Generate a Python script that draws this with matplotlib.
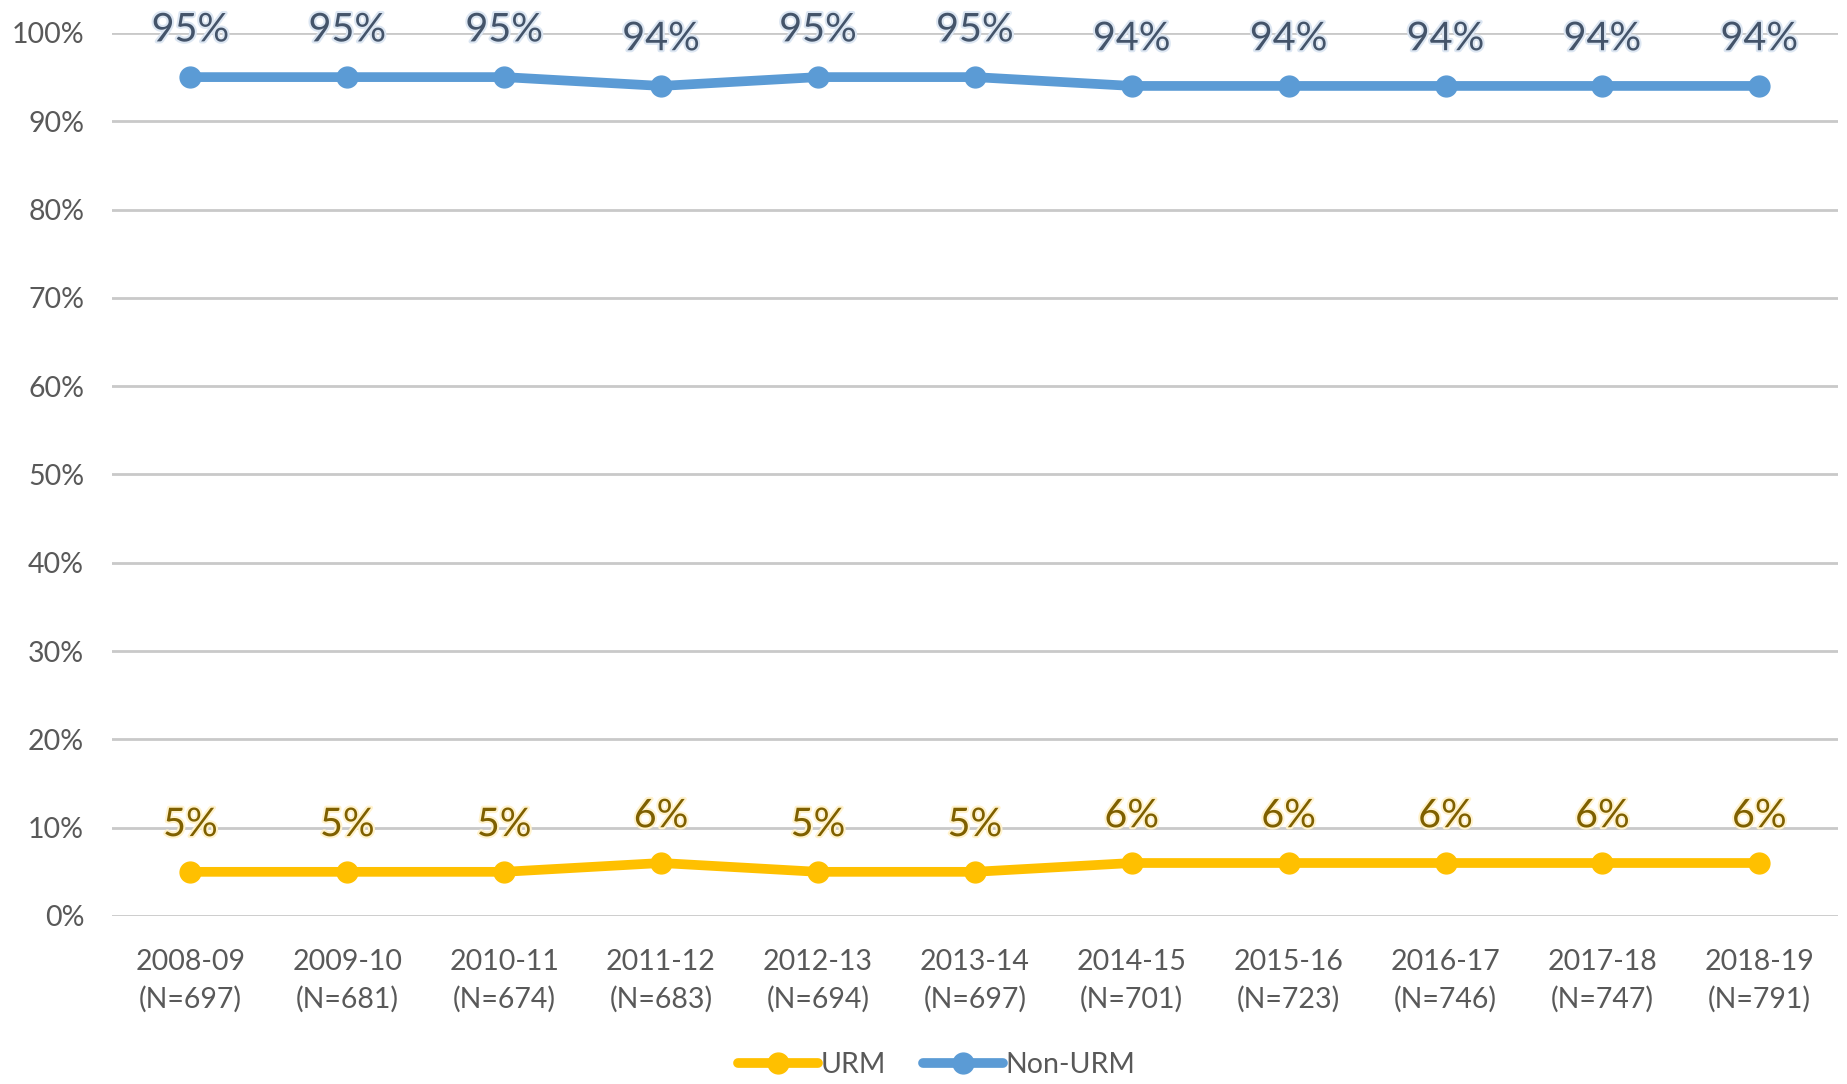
import matplotlib
matplotlib.use("Agg")
import matplotlib.pyplot as plt
import matplotlib.patheffects as pe

# school years and cohort sizes
years = ["2008-09", "2009-10", "2010-11", "2011-12", "2012-13", "2013-14",
         "2014-15", "2015-16", "2016-17", "2017-18", "2018-19"]
n_sizes = [697, 681, 674, 683, 694, 697, 701, 723, 746, 747, 791]

# percent of cohort
urm = [5, 5, 5, 6, 5, 5, 6, 6, 6, 6, 6]
non_urm = [95, 95, 95, 94, 95, 95, 94, 94, 94, 94, 94]

plt.rcParams['font.family'] = ['Lato', 'DejaVu Sans']

fig = plt.figure(figsize=(18.47, 10.84), dpi=100)
ax = fig.add_axes([0.0606, 0.155, 0.9344, 0.8146])

x = list(range(len(years)))
ax.plot(x, urm, color="#FFC000", lw=7, marker="o", ms=15, label="URM",
        solid_capstyle="round", zorder=3)
ax.plot(x, non_urm, color="#5B9BD5", lw=7, marker="o", ms=15, label="Non-URM",
        solid_capstyle="round", zorder=3)

for xi, v in zip(x, non_urm):
    ax.annotate(f"{v}%", (xi, v), xytext=(0, 34), textcoords="offset points",
                ha="center", va="center", fontsize=28.5, color="#44546A",
                annotation_clip=False, zorder=4,
                path_effects=[pe.withStroke(linewidth=3, foreground="#DCE6F2")])
for xi, v in zip(x, urm):
    ax.annotate(f"{v}%", (xi, v), xytext=(0, 34), textcoords="offset points",
                ha="center", va="center", fontsize=28.5, color="#7F6000",
                annotation_clip=False, zorder=4,
                path_effects=[pe.withStroke(linewidth=3, foreground="#FFF2CC")])

ax.set_xlim(-0.5, len(years) - 0.5)
ax.set_ylim(0, 100)
ax.set_yticks(range(0, 101, 10))
ax.set_yticklabels([f"{t}%" for t in range(0, 101, 10)])
ax.set_xticks(x)
ax.set_xticklabels([f"{y}\n(N={n})" for y, n in zip(years, n_sizes)],
                   linespacing=1.5)
ax.tick_params(axis="both", length=0, labelsize=20.5, labelcolor="#595959")
ax.tick_params(axis="y", pad=20)
ax.tick_params(axis="x", pad=24)

ax.grid(axis="y", color="#C9C9C9", lw=2)
ax.set_axisbelow(True)
for s in ax.spines.values():
    s.set_visible(False)

leg = ax.legend(loc="upper center", bbox_to_anchor=(0.478, -0.131), ncol=2,
                frameon=False, fontsize=20.5, handlelength=2.8, handletextpad=0.1,
                columnspacing=1.3, borderpad=0.2)
for t in leg.get_texts():
    t.set_color("#595959")

fig.savefig("out.png", dpi=100)
